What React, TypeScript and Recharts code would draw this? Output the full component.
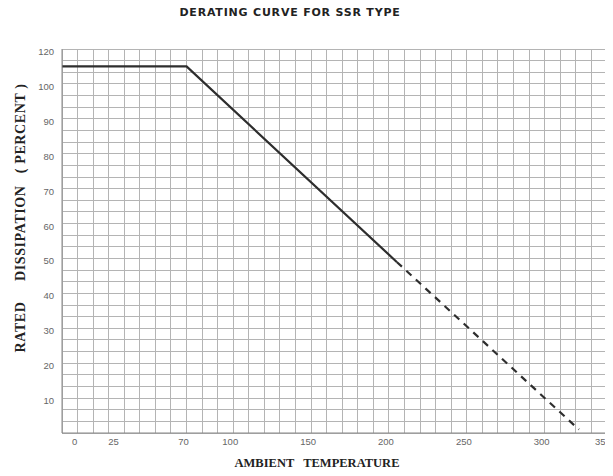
import type { JSX } from "react";
import { CartesianGrid, Line, LineChart, XAxis, YAxis } from "recharts";

// derating curve
const solidTemp = [-10, 70, 205];
const solidPct = [105, 105, 49];
const dashedTemp = [205, 322];
const dashedPct = [49, 1];

const xTicks = [0, 25, 70, 100, 150, 200, 250, 300, 350];
const yTicks = [10, 20, 30, 40, 50, 60, 70, 80, 90, 100, 110];
// the sheet prints "120" on the top line
const yTickLabels = ["10", "20", "30", "40", "50", "60", "70", "80", "90", "100", "120"];

const solidData = solidTemp.map((t, i) => ({ t, pct: solidPct[i] }));
const dashedData = dashedTemp.map((t, i) => ({ t, pct: dashedPct[i] }));

// graph paper: 10 deg columns, 3 rows per 10 %
const vLines = Array.from({ length: 37 }, (_, i) => -10 + i * 10);
const hLines = Array.from({ length: 34 }, (_, i) => (i * 10) / 3);

const tickFont = "'Liberation Sans', sans-serif";
const serif = "'Liberation Serif', 'DejaVu Serif', serif";

function XTick({ x, y, payload }: any): JSX.Element {
  // last label sits against the page edge, as on the sheet
  return (
    <text
      x={Math.min(x - 3, 603)}
      y={y + 4}
      textAnchor="middle"
      fontSize={9.5}
      fill="#666"
      fontFamily={tickFont}
    >
      {payload.value}
    </text>
  );
}

function YTick({ x, y, payload }: any): JSX.Element {
  const label = yTickLabels[yTicks.indexOf(payload.value)];
  return (
    <text x={x} y={y + 6} textAnchor="end" fontSize={9.5} fill="#666" fontFamily={tickFont}>
      {label}
    </text>
  );
}

export default function App(): JSX.Element {
  return (
    <div
      style={{
        position: "relative",
        margin: -8,
        width: 613,
        height: 476,
        overflow: "hidden",
        background: "#fff",
      }}
    >
      <div
        style={{
          position: "absolute",
          top: 6,
          left: 290,
          transform: "translateX(-50%)",
          whiteSpace: "nowrap",
          fontFamily: "'DejaVu Sans', sans-serif",
          fontWeight: 900,
          fontSize: 11,
          letterSpacing: 0.8,
          color: "#222",
        }}
      >
        DERATING CURVE FOR SSR TYPE
      </div>
      <LineChart
        width={640}
        height={476}
        margin={{ top: 49, right: 17.5, bottom: 13, left: 22 }}
      >
        <CartesianGrid
          stroke="#b4b4b4"
          strokeWidth={1}
          shapeRendering="crispEdges"
          verticalValues={vLines}
          horizontalValues={hLines}
        />
        <XAxis
          type="number"
          dataKey="t"
          domain={[-10, 350]}
          ticks={xTicks}
          interval={0}
          allowDataOverflow
          height={30}
          tickLine={false}
          axisLine={{ stroke: "#888" }}
          tick={<XTick />}
        />
        <YAxis
          type="number"
          dataKey="pct"
          domain={[0, 110]}
          ticks={yTicks}
          interval={0}
          width={40}
          tickLine={false}
          axisLine={{ stroke: "#888" }}
          tick={<YTick />}
        />
        <Line
          data={solidData}
          dataKey="pct"
          stroke="#2e2e2e"
          strokeWidth={2.2}
          dot={false}
          isAnimationActive={false}
        />
        <Line
          data={dashedData}
          dataKey="pct"
          stroke="#2e2e2e"
          strokeWidth={2.2}
          strokeDasharray="7 6"
          dot={false}
          isAnimationActive={false}
        />
      </LineChart>
      <div
        style={{
          position: "absolute",
          top: 456,
          left: 317,
          transform: "translateX(-50%)",
          whiteSpace: "pre",
          fontFamily: serif,
          fontWeight: 700,
          fontSize: 12.5,
          color: "#222",
        }}
      >
        {"AMBIENT   TEMPERATURE"}
      </div>
      <div
        style={{
          position: "absolute",
          top: 218,
          left: 21,
          transform: "translate(-50%, -50%) rotate(-90deg)",
          whiteSpace: "pre",
          fontFamily: serif,
          fontWeight: 700,
          fontSize: 14,
          letterSpacing: 0.6,
          color: "#222",
        }}
      >
        {"RATED     DISSIPATION   ( PERCENT )"}
      </div>
    </div>
  );
}
